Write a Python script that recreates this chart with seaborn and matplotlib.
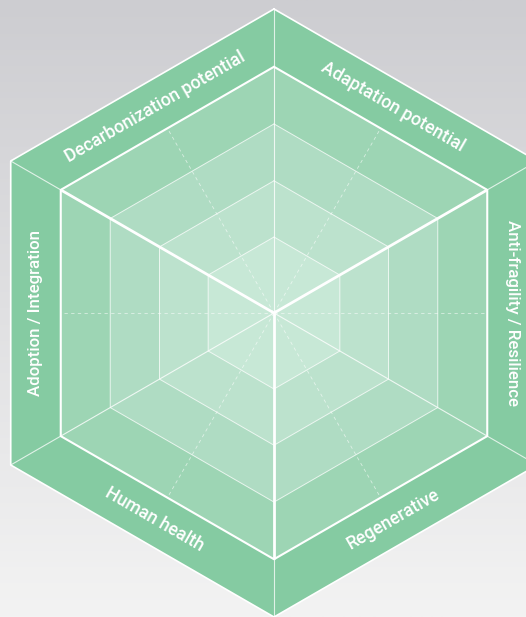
import matplotlib
matplotlib.use("Agg")
import matplotlib.pyplot as plt
import seaborn as sns
import numpy as np
import pandas as pd

# axis names, one per hexagon edge, counter-clockwise from the right side
axis_labels = ["Anti-fragility / Resilience", "Adaptation potential",
               "Decarbonization potential", "Adoption / Integration",
               "Human health", "Regenerative"]
edge_angles = [0, 60, 120, 180, 240, 300]
label_rotation = [-90, -30, 30, 90, -30, 30]

# grid rings, relative to the outer hexagon (last one is the label band)
ring_levels = [0.25, 0.435, 0.622, 0.81, 1.0]
ring_colors = ["#c7e8d6", "#bce2cd", "#afdcc3", "#9dd5b4", "#85cba2"]

# spokes to the hexagon corners: three bold ones give the cube look
corner_angles = [90, 30, -30, -90, -150, 150]
corner_bold = [False, True, False, True, False, True]

R = 304


def hexagon(r):
    a = np.deg2rad(np.array(corner_angles + corner_angles[:1]))
    return pd.DataFrame({"x": r * np.cos(a), "y": r * np.sin(a)})


sns.set_theme(style="white")
plt.rcParams["font.family"] = ["Roboto", "Liberation Sans", "DejaVu Sans"]

fig = plt.figure(figsize=(5.26, 6.17), dpi=100)

# grey gradient background
bg = fig.add_axes([0, 0, 1, 1])
grad = np.linspace(0, 1, 256)[:, None]
bg.imshow(grad, aspect="auto", cmap=matplotlib.colors.LinearSegmentedColormap.from_list(
    "bg", ["#cdcdd1", "#f3f3f3"]), extent=[0, 1, 0, 1])
bg.set_axis_off()

ax = fig.add_axes([0, 0, 1, 1])
ax.set_xlim(-274, 252)
ax.set_ylim(-304, 313)
ax.set_axis_off()
ax.patch.set_alpha(0)

# filled rings, outer first
for lvl, col in zip(ring_levels[::-1], ring_colors[::-1]):
    h = hexagon(lvl * R)
    ax.fill(h["x"], h["y"], color=col, lw=0, zorder=1)

# ring outlines
for lvl in ring_levels:
    h = hexagon(lvl * R)
    if lvl == 1.0:
        lw, al = 1.2, 1.0
    elif lvl == ring_levels[-2]:
        lw, al = 1.5, 1.0
    else:
        lw, al = 0.7, 0.75
    sns.lineplot(data=h, x="x", y="y", sort=False, color="white", lw=lw,
                 alpha=al, ax=ax, zorder=3, estimator=None)

# dashed lines to the edge midpoints
r_in = ring_levels[-2] * R * np.cos(np.deg2rad(30))
for ang in edge_angles:
    a = np.deg2rad(ang)
    ax.plot([0, r_in * np.cos(a)], [0, r_in * np.sin(a)], color="white",
            lw=0.6, alpha=0.6, ls=(0, (4, 4)), zorder=2)

# corner spokes
r_ring = ring_levels[-2] * R
for ang, bold in zip(corner_angles, corner_bold):
    a = np.deg2rad(ang)
    ax.plot([0, r_ring * np.cos(a)], [0, r_ring * np.sin(a)], color="white",
            lw=2.0 if bold else 0.8, alpha=1.0 if bold else 0.8, zorder=4,
            solid_capstyle="butt")
    ax.plot([r_ring * np.cos(a), R * np.cos(a)], [r_ring * np.sin(a), R * np.sin(a)],
            color="white", lw=0.8, alpha=0.75, zorder=4)

# labels in the outer band
r_lab = (ring_levels[-2] + 1.0) / 2 * R * np.cos(np.deg2rad(30))
for name, ang, rot in zip(axis_labels, edge_angles, label_rotation):
    a = np.deg2rad(ang)
    size = 12.2 if rot in (90, -90) else 12.8
    ax.text(r_lab * np.cos(a), r_lab * np.sin(a), name, rotation=rot,
            rotation_mode="anchor", ha="center", va="center", color="white",
            fontsize=size, fontweight="medium", zorder=5)

fig.savefig("out.png", dpi=100)
